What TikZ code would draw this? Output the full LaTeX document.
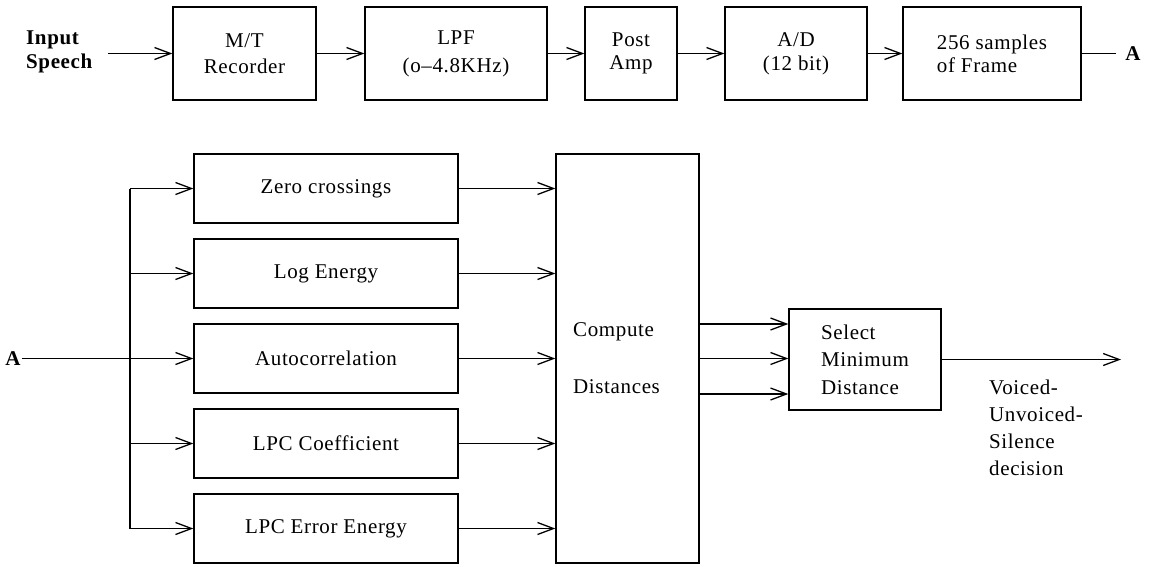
\documentclass[tikz,border=0pt]{standalone}
\usepackage{fontspec}
\setmainfont{Liberation Serif}[LetterSpace=3]
\usetikzlibrary{arrows.meta}
\newcommand\myfs[1]{\fontsize{21}{#1}\selectfont}
\begin{document}
\begin{tikzpicture}[x=1pt,y=-1pt,
  every node/.style={font=\myfs{25}, inner sep=0pt},
  blk/.style={draw, line width=1.3pt, minimum height=93pt, align=center},
  fbox/.style={draw, line width=1.3pt, minimum width=264pt, minimum height=69pt},
  arr/.style={line width=1.3pt, -{Straight Barb[length=16pt,width=12pt,line width=1.3pt]}},
  wire/.style={line width=1.3pt}]
\useasboundingbox (0,0) rectangle (1151,566);
% ---------- top row ----------
\node[anchor=west, align=left, font=\myfs{24}\bfseries] (inp) at (26,52) {Input\\Speech};
\coordinate (inS) at (108,53.5);
\node[blk, minimum width=143pt, font=\myfs{26}] (mt) at (244.5,53.5) {M/T\\Recorder};
\node[blk, minimum width=182pt, font=\myfs{28}] (lpf) at (456,53.5) {LPF\\(o--4.8KHz)};
\node[blk, minimum width=92pt, font=\myfs{23}] (post) at (631,53.5) {Post\\Amp};
\node[blk, minimum width=142pt, font=\myfs{24}] (ad) at (796,53.5) {A/D\\(12 bit)};
\node[blk, minimum width=178pt, align=left, font=\myfs{23}] (frm) at (992,53.5) {256 samples\\of Frame};
\node[font=\myfs{25}\bfseries, inner xsep=9pt] (Atop) at (1133,53.5) {A};
\draw[arr] (inS) -- (mt);
\draw[arr] (mt) -- (lpf);
\draw[arr] (lpf) -- (post);
\draw[arr] (post) -- (ad);
\draw[arr] (ad) -- (frm);
\draw[wire] (frm.east) -- (Atop.west);
% ---------- bottom ----------
\node[font=\myfs{25}\bfseries, inner sep=1pt] (Ain) at (13,358.5) {A};
\node[fbox] (zero) at (326,188.5) {Zero crossings};
\node[fbox] (loge) at (326,273.5) {Log Energy};
\node[fbox] (auto) at (326,358.5) {Autocorrelation};
\node[fbox] (lpcc) at (326,443.5) {LPC Coefficient};
\node[fbox] (lpce) at (326,528.5) {LPC Error Energy};
\coordinate (j1) at (130,188.5);
\coordinate (j2) at (130,273.5);
\coordinate (j4) at (130,443.5);
\coordinate (j5) at (130,528.5);
\draw[wire] (j1) -- (j5);
\draw[arr] (Ain) -- (auto);
\draw[arr] (j1) -- (zero);
\draw[arr] (j2) -- (loge);
\draw[arr] (j4) -- (lpcc);
\draw[arr] (j5) -- (lpce);
\node[draw, line width=1.3pt, minimum width=143pt, minimum height=409pt] (cmp) at (627.5,358.5) {};
\node[anchor=west] (cmpa) at (573,332) {Compute};
\node[anchor=west] (cmpb) at (573,387) {Distances};
\foreach \n in {zero,loge,auto,lpcc,lpce}{
  \draw[arr] (\n.east) -- (\n.east -| cmp.west);
}
\node[draw, line width=1.3pt, minimum width=152pt, minimum height=101pt, align=left, font=\myfs{27.5}] (sel) at (865,359.5) {Select\\Minimum\\Distance};
\draw[arr] ([yshift=34.5pt]cmp.east) -- ([yshift=34.5pt]cmp.east -| sel.west);
\draw[arr] (cmp.east) -- (cmp.east -| sel.west);
\draw[arr] ([yshift=-35.5pt]cmp.east) -- ([yshift=-35.5pt]cmp.east -| sel.west);
\coordinate (out) at (1121,359.5);
\draw[arr] (sel) -- (out);
\node[anchor=north west, align=left, font=\myfs{27}] (vus) at (989,380) {Voiced-\\Unvoiced-\\Silence\\decision};
\end{tikzpicture}
\end{document}
